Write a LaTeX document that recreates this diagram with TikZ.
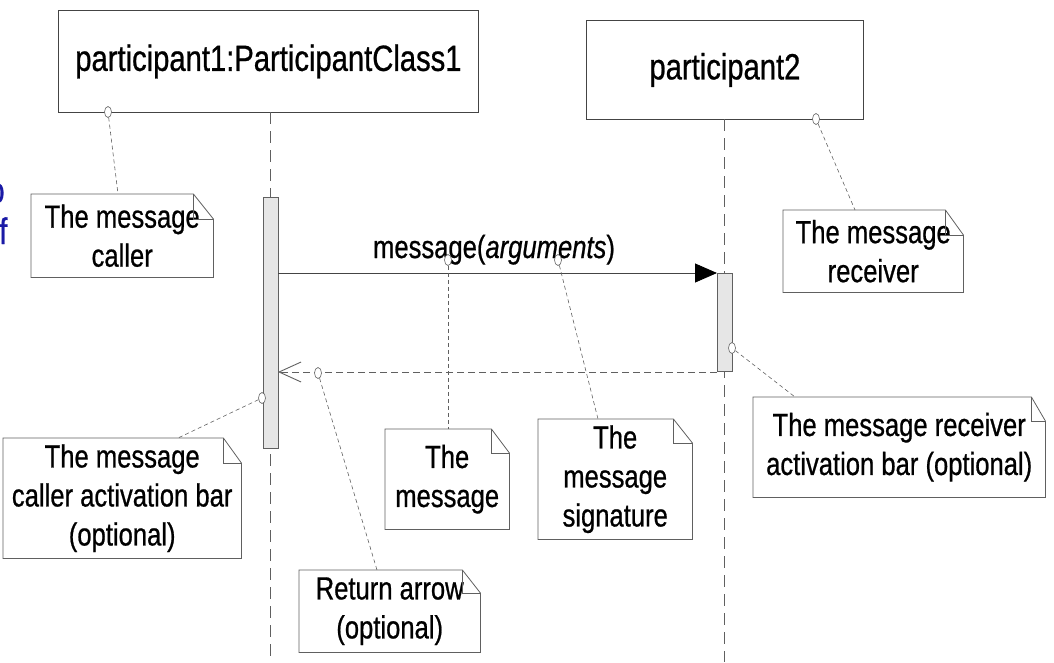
\documentclass[tikz,border=0pt]{standalone}
\usepackage{fontspec}
\setmainfont{Liberation Sans}[FakeStretch=0.8,FakeBold=0.7]
\usetikzlibrary{arrows.meta,shapes.geometric}
\definecolor{boxline}{HTML}{444444}
\definecolor{noteline}{HTML}{606060}
\definecolor{barfill}{HTML}{E6E6E6}
\definecolor{slideblue}{HTML}{1A1AA6}
\newcommand\dogear[3]{%
  \draw[notestroke] (#1.north west) -- ([xshift=-#2pt]#1.north east) -- ([yshift=-#3pt]#1.north east) -- (#1.south east) -- (#1.south west) -- cycle;
  \draw[notestroke] ([xshift=-#2pt]#1.north east) |- ([yshift=-#3pt]#1.north east);}
\begin{document}
\begin{tikzpicture}[x=1pt,y=-1pt,
  pbox/.style={draw=boxline, line width=0.9pt, inner sep=0pt, anchor=north west, font=\fontsize{36.5}{43}\selectfont},
  umlnote/.style={inner sep=0pt, anchor=north west, align=center, font=\fontsize{32}{39}\selectfont},
  notestroke/.style={draw=noteline, line width=0.8pt},
  actbar/.style={draw=noteline, fill=barfill, line width=0.8pt, inner sep=0pt, anchor=north west, minimum width=15pt},
  lifeline/.style={draw=noteline, line width=0.8pt, dash pattern=on 12pt off 7pt},
  notelink/.style={draw=noteline, line width=0.6pt, dash pattern=on 4pt off 3pt},
  anchorpt/.style={ellipse, draw=noteline, line width=0.6pt, fill=white, minimum width=7pt, minimum height=11pt, inner sep=0pt},
  msgarrow/.style={draw=boxline, line width=0.9pt, -{Triangle[length=22pt,width=19pt,color=black,fill=black]}},
  retarrow/.style={draw=noteline, line width=0.8pt, dash pattern=on 7pt off 4pt, -{Straight Barb[length=22pt,width=20pt,line width=0.9pt]}}
]
\useasboundingbox (0,0) rectangle (1054,662);

% slide fragments at the left edge
\node[text=slideblue, font=\fontsize{37}{40}\selectfont, anchor=base west, inner sep=0pt] (fraga) at (-12,203) {o};
\node[text=slideblue, font=\fontsize{37}{40}\selectfont, anchor=base west, inner sep=0pt] (fragb) at (-1,244) {f};

% participants
\node[pbox, minimum width=420pt, minimum height=102pt] (p1) at (58,10) {participant1:ParticipantClass1};
\node[pbox, minimum width=277pt, minimum height=99pt] (p2) at (586,20) {participant2};

% lifelines
\coordinate (l1top) at (270,112);
\coordinate (l1bot) at (270,662);
\coordinate (l2top) at (724,119);
\coordinate (l2bot) at (724,662);
\draw[lifeline] (l1top) -- (l1bot);
\draw[lifeline] (l2top) -- (l2bot);

% activation bars
\node[actbar, minimum height=251pt] (bar1) at (263,197) {};
\node[actbar, minimum height=98pt] (bar2) at (717,273) {};

% messages
\coordinate (msgstart) at (278,273);
\draw[msgarrow] (msgstart) -- (bar2.north west);
\coordinate (retend) at (278,372);
\draw[retarrow] (bar2.south west |- retend) -- (retend);
\node[anchor=base, inner sep=0pt, font=\fontsize{32}{39}\selectfont] (msglabel) at (494,258) {message(\textit{arguments})};

% notes
\node[umlnote, minimum width=182pt, minimum height=83pt] (ncaller) at (31,194) {The message\\caller};
\dogear{ncaller}{20}{25}
\node[umlnote, minimum width=180pt, minimum height=82pt] (nreceiver) at (783,210) {The message\\receiver};
\dogear{nreceiver}{18}{25}
\node[umlnote, minimum width=238pt, minimum height=120pt] (ncallerbar) at (3,438) {The message\\caller activation bar\\(optional)};
\dogear{ncallerbar}{18}{25}
\node[umlnote, minimum width=124pt, minimum height=100pt] (nmessage) at (385,429) {The\\message};
\dogear{nmessage}{18}{24}
\node[umlnote, minimum width=154pt, minimum height=120pt] (nsignature) at (538,419) {The\\message\\signature};
\dogear{nsignature}{19}{24}
\node[umlnote, minimum width=292pt, minimum height=100pt] (nrecbar) at (753,397) {The message receiver\\activation bar (optional)};
\dogear{nrecbar}{14}{24}
\node[umlnote, minimum width=181pt, minimum height=82pt] (nreturn) at (299,570) {Return arrow\\(optional)};
\dogear{nreturn}{18}{23}

% anchor points
\node[anchorpt] (a1) at (108,112) {};
\node[anchorpt] (a2) at (816,119) {};
\node[anchorpt] (a3) at (262,398) {};
\node[anchorpt] (a4) at (448,260) {};
\node[anchorpt] (a5) at (558,260) {};
\node[anchorpt] (a6) at (732,348) {};
\node[anchorpt] (a7) at (318,373) {};

% note links
\draw[notelink] (a1) -- (ncaller.north west -| 118,0);
\draw[notelink] (a2) -- (nreceiver.north west -| 855,0);
\draw[notelink] (a3) -- (ncallerbar.north west -| 178,0);
\draw[notelink] (a4) -- (nmessage.north west -| 448,0);
\draw[notelink] (a5) -- (nsignature.north west -| 598,0);
\draw[notelink] (a6) -- (nrecbar.north west -| 795,0);
\draw[notelink] (a7) -- (nreturn.north west -| 377,0);
\end{tikzpicture}
\end{document}
